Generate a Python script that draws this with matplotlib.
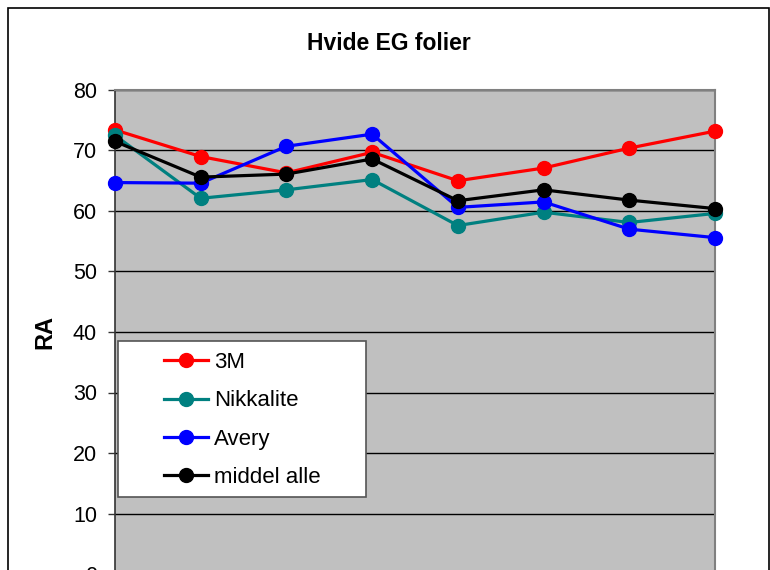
import numpy as np
import matplotlib
matplotlib.use("Agg")
import matplotlib.pyplot as plt
from matplotlib.patches import Rectangle

plt.rcParams['font.family'] = ['Liberation Sans', 'DejaVu Sans']

# measurement positions (x axis is cut off in the original)
positions = np.arange(8)

series_names = ["3M", "Nikkalite", "Avery", "middel alle"]
series_colors = ["#FF0000", "#008080", "#0000FF", "#000000"]

ra_3m = [73.4, 69.0, 66.3, 69.7, 65.0, 67.1, 70.4, 73.2]
ra_nikkalite = [72.5, 62.1, 63.5, 65.2, 57.6, 59.8, 58.1, 59.6]
ra_avery = [64.7, 64.6, 70.7, 72.7, 60.6, 61.5, 57.0, 55.6]
ra_middel = [71.5, 65.6, 66.1, 68.6, 61.7, 63.5, 61.8, 60.4]

yticks = [0, 10, 20, 30, 40, 50, 60, 70, 80]

fig = plt.figure(figsize=(7.7, 5.7), dpi=100)
fig.patch.set_facecolor("white")

# outer chart frame
fig.patches.append(Rectangle((8 / 770, -0.1), 761 / 770, 1.1 - 8 / 570,
                             transform=fig.transFigure, fill=False,
                             edgecolor="black", linewidth=1.2))

ax = fig.add_axes([115 / 770, -4 / 570, 600 / 770, 484 / 570])
ax.set_facecolor("#C0C0C0")

all_series = [ra_3m, ra_nikkalite, ra_avery, ra_middel]
for vals, name, col in zip(all_series, series_names, series_colors):
    ax.plot(positions, vals, color=col, linewidth=2.3, marker="o",
            markersize=10, label=name, clip_on=False, zorder=3)

ax.set_xlim(0, 7)
ax.set_ylim(0, 80)
ax.set_yticks(yticks)
ax.set_xticks([])
ax.yaxis.grid(True, color="black", linewidth=1.0)
ax.set_axisbelow(True)
ax.tick_params(axis="y", direction="out", length=5, width=1, pad=8,
               labelsize=15.5, color="#333333")

for side in ["top", "right", "bottom"]:
    ax.spines[side].set_color("#808080")
    ax.spines[side].set_linewidth(1.5)
ax.spines["left"].set_color("#333333")
ax.spines["left"].set_linewidth(1.2)

ax.set_ylabel("RA", fontsize=17, fontweight="bold", labelpad=12)

fig.text(0.505, 1 - 43 / 570, "Hvide EG folier", ha="center", va="center",
         fontsize=16.5, fontweight="bold")

# legend box
ax.add_patch(Rectangle((3 / 600, 77 / 484), 248 / 600, 156 / 484,
                       transform=ax.transAxes, facecolor="white",
                       edgecolor="#555555", linewidth=1.2, zorder=4.5))
ax.legend(loc="center", bbox_to_anchor=(0.212, 0.318), frameon=False,
          fontsize=16, labelspacing=0.78, handlelength=2.0,
          handletextpad=0.25, borderpad=0.2)

fig.savefig("out.png", dpi=100)
